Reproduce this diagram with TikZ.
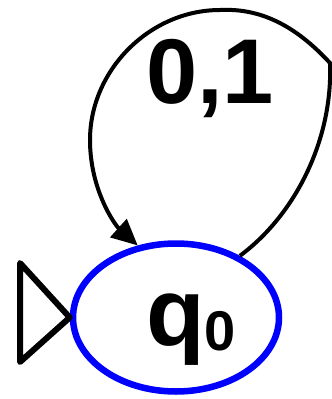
\documentclass[tikz,border=0pt]{standalone}
\usepackage{fontspec}
\setmainfont{Liberation Sans}
\usetikzlibrary{arrows.meta,shapes.geometric}
\tikzset{
  state/.style={draw=blue, line width=6.5pt, ellipse, minimum width=206pt, minimum height=148pt, inner sep=0pt},
  edge/.style={draw=black, line width=4pt, -{Triangle[length=26pt,width=24pt]}},
  initmark/.style={draw=black, line width=6pt, line join=round}
}
\begin{document}
\begin{tikzpicture}[x=1pt,y=-1pt]
\useasboundingbox (0,0) rectangle (332,399);
\node[state] (q) at (176,317.5) {};
\node[anchor=base, inner sep=0pt] (qlabel) at (191,345) {\fontsize{96}{96}\selectfont\bfseries q\raisebox{-5pt}{\fontsize{56}{56}\selectfont 0}};
\coordinate (r) at (330,63);
\coordinate (t) at (220,10);
\coordinate (l) at (90,140);
\draw[edge] (q.44) .. controls (295,215) and (333,140) .. (r)
  .. controls (295,25) and (260,8) .. (t)
  .. controls (150,10) and (90,70) .. (l)
  .. controls (90,190) and (115,225) .. (q.118);
\node[anchor=base, inner sep=0pt] (lbl) at (210,103) {\fontsize{92}{92}\selectfont\bfseries 0,1};
\coordinate (a) at (20,263);
\coordinate (b) at (20,362);
\draw[initmark] (a) -- (q.west) -- (b) -- cycle;
\end{tikzpicture}
\end{document}
